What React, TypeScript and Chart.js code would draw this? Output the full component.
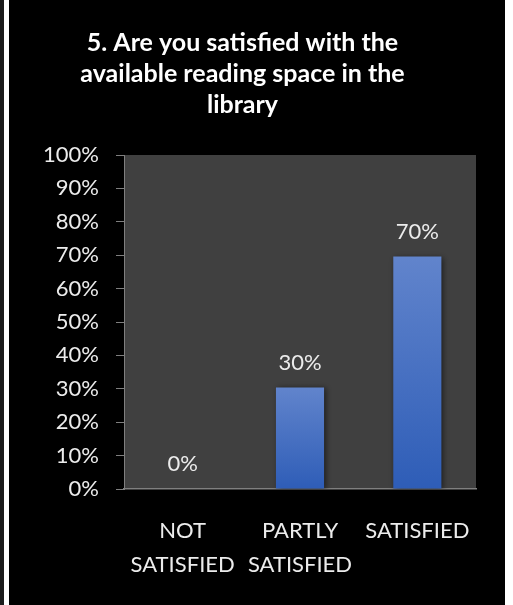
import React, { useEffect, useRef } from "react";
import { Chart, registerables } from "chart.js";

Chart.register(...registerables);

const titleLines = ["5. Are you satisfied with the", "available reading space in the", "library"];
const categories: string[][] = [["NOT", "SATISFIED"], ["PARTLY", "SATISFIED"], ["SATISFIED"]];
const values = [0, 30.4, 69.6];
const yTicks = [0, 10, 20, 30, 40, 50, 60, 70, 80, 90, 100];

const FONT = "Lato, 'Open Sans', sans-serif";

const plotBg = {
  id: "plotBg",
  beforeDraw(chart: any) {
    const { ctx, chartArea } = chart;
    if (!chartArea) return;
    ctx.save();
    ctx.fillStyle = "#404040";
    ctx.fillRect(chartArea.left, chartArea.top, chartArea.right - chartArea.left, chartArea.bottom - chartArea.top);
    ctx.restore();
  },
};

const barShadow = {
  id: "barShadow",
  beforeDatasetsDraw(chart: any) {
    const ctx = chart.ctx;
    ctx.save();
    ctx.shadowColor = "rgba(0,0,0,0.55)";
    ctx.shadowBlur = 6;
    ctx.shadowOffsetX = 2;
    ctx.shadowOffsetY = 1;
  },
  afterDatasetsDraw(chart: any) {
    chart.ctx.restore();
  },
};

const dataLabels = {
  id: "dataLabels",
  afterDraw(chart: any) {
    const ctx = chart.ctx;
    const meta = chart.getDatasetMeta(0);
    ctx.save();
    ctx.font = `22px ${FONT}`;
    ctx.fillStyle = "#ececec";
    ctx.textAlign = "center";
    ctx.textBaseline = "middle";
    meta.data.forEach((el: any, i: number) => {
      const v = chart.data.datasets[0].data[i] as number;
      ctx.fillText(Math.round(v) + "%", el.x, el.y - 25);
    });
    ctx.restore();
  },
};

export default function App() {
  const ref = useRef<HTMLCanvasElement>(null);

  useEffect(() => {
    if (!ref.current) return;
    const chart = new Chart(ref.current, {
      type: "bar",
      data: {
        labels: categories as any,
        datasets: [
          {
            data: values,
            backgroundColor: (c: any) => {
              const ch = c.chart;
              const y = ch.scales?.y;
              if (!ch.chartArea || !y || c.raw === undefined) return "#4472c4";
              const top = y.getPixelForValue(c.raw);
              const base = y.getPixelForValue(0);
              if (!isFinite(top) || !isFinite(base) || base - top < 1) return "#4472c4";
              const g = ch.ctx.createLinearGradient(0, top, 0, base);
              g.addColorStop(0, "#6184cc");
              g.addColorStop(1, "#2e5db7");
              return g;
            },
            borderWidth: 0,
            barPercentage: 0.41,
            categoryPercentage: 1,
          },
        ],
      },
      options: {
        animation: false,
        responsive: false,
        devicePixelRatio: 1,
        layout: { padding: { left: 0, right: 29, top: 0, bottom: 0 } },
        plugins: {
          legend: { display: false },
          tooltip: { enabled: false },
          title: {
            display: true,
            text: titleLines,
            color: "#ffffff",
            font: { family: FONT, size: 25, weight: "bold", lineHeight: 1.24 },
            padding: { top: 27, bottom: 35 },
          },
        },
        scales: {
          x: {
            grid: { display: false },
            border: { display: true, color: "#7f7f7f", width: 1.5 },
            ticks: {
              color: "#ececec",
              font: { family: FONT, size: 22, lineHeight: 1.55 },
              padding: 17,
              autoSkip: false,
              maxRotation: 0,
              minRotation: 0,
            },
            afterFit(scale: any) {
              scale.height = 116;
            },
          },
          y: {
            min: 0,
            max: 100,
            afterBuildTicks(scale: any) {
              scale.ticks = yTicks.map((v) => ({ value: v }));
            },
            grid: { drawOnChartArea: false, drawTicks: true, tickLength: 8, color: "#7f7f7f" },
            border: { display: true, color: "#7f7f7f" },
            ticks: {
              color: "#ececec",
              font: { family: FONT, size: 22 },
              padding: 17,
              callback: (v: any) => v + "%",
            },
            afterFit(scale: any) {
              scale.width = 115;
            },
          },
        },
      },
      plugins: [plotBg, barShadow, dataLabels],
    });
    return () => chart.destroy();
  }, []);

  return (
    <div style={{ position: "fixed", left: 0, top: 0, width: 513, height: 605, background: "#ffffff" }}>
      <div style={{ position: "absolute", left: 0, top: 0, width: 4, height: 605, background: "#1c1c1c" }} />
      <div style={{ position: "absolute", left: 9, top: 0, width: 496, height: 605, background: "#000000" }}>
        <canvas ref={ref} width={496} height={605} style={{ display: "block", width: 496, height: 605 }} />
      </div>
    </div>
  );
}
